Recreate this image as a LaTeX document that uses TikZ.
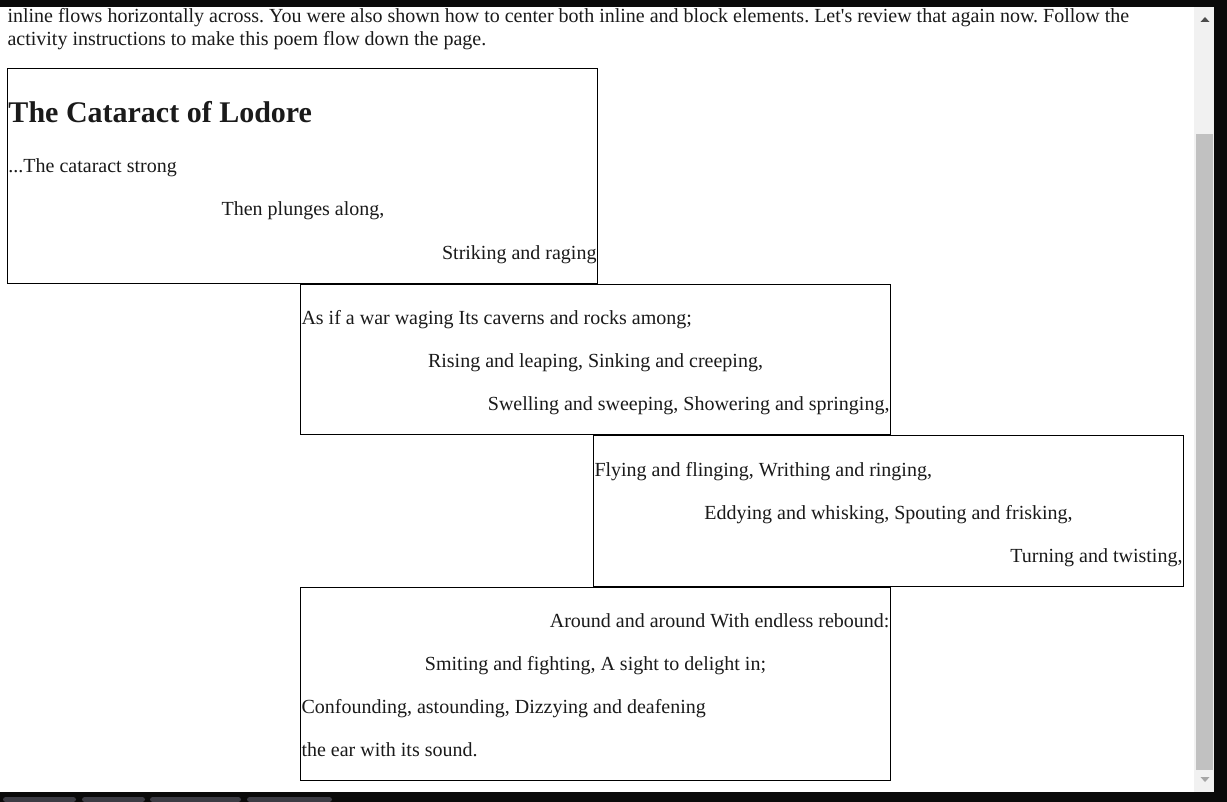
\documentclass[tikz,border=0pt]{standalone}
\usepackage{fontspec}
\setmainfont{Liberation Serif}
\usepackage{tikz}
\frenchspacing

\definecolor{barblack}{HTML}{0A0A0A}
\definecolor{tabgray}{HTML}{3C3C44}
\definecolor{trackgray}{HTML}{F1F1F1}
\definecolor{thumbgray}{HTML}{C1C1C1}
\definecolor{inkblack}{HTML}{1A1A1A}

\begin{document}
\begin{tikzpicture}[x=0.75pt, y=-0.75pt, line width=0.75pt,
    every node/.style={inner sep=0pt, text=inkblack},
    verse/.style={font=\fontsize{15}{18}\selectfont},
    title/.style={font=\bfseries\fontsize{22.5}{27}\selectfont}]
    \useasboundingbox (0, 0) rectangle (1227, 802);
    \fill[white] (0, 0) rectangle (1227, 802);

    % draw intro text
    \node[verse, anchor=base west] (introa) at (7, 22.5) {inline flows horizontally across. You were also shown how to center both inline and block elements. Let\textquotesingle s review that again now. Follow the};
    \node[verse, anchor=base west] (introb) at (7, 46) {activity instructions to make this poem flow down the page.};

    % draw poem boxes
    \draw[color=black] (7, 69) rectangle (597, 283);
    \draw[color=black] (300, 284) rectangle (890, 434);
    \draw[color=black] (593, 435) rectangle (1183, 586);
    \draw[color=black] (300, 587) rectangle (890, 780);

    % first box
    \node[title, anchor=base west] (heading) at (8, 123) {The Cataract of Lodore};
    \node[verse, anchor=base west] (linea) at (8, 173) {...The cataract strong};
    \node[verse, anchor=base] (lineb) at (303, 216) {Then plunges along,};
    \node[verse, anchor=base east] (linec) at (597, 259) {Striking and raging};

    % second box
    \node[verse, anchor=base west] (lined) at (301, 324) {As if a war waging Its caverns and rocks among;};
    \node[verse, anchor=base] (linee) at (595.5, 367) {Rising and leaping, Sinking and creeping,};
    \node[verse, anchor=base east] (linef) at (890, 410) {Swelling and sweeping, Showering and springing,};

    % third box
    \node[verse, anchor=base west] (lineg) at (594, 476) {Flying and flinging, Writhing and ringing,};
    \node[verse, anchor=base] (lineh) at (888.5, 519) {Eddying and whisking, Spouting and frisking,};
    \node[verse, anchor=base east] (linei) at (1183, 562) {Turning and twisting,};

    % fourth box
    \node[verse, anchor=base east] (linej) at (890, 627) {Around and around With endless rebound:};
    \node[verse, anchor=base] (linek) at (595.5, 670) {Smiting and fighting, A sight to delight in;};
    \node[verse, anchor=base west] (linel) at (301, 713) {Confounding, astounding, Dizzying and deafening};
    \node[verse, anchor=base west] (linem) at (301, 756) {the ear with its sound.};

    % draw scrollbar
    \fill[color=trackgray] (1194, 7) rectangle (1214, 792);
    \fill[color=thumbgray] (1196, 134) rectangle (1213, 770);
    \fill[color=black!70] (1200.5, 22) -- (1209.5, 22) -- (1205, 17) -- cycle;
    \fill[color=black!35] (1200.5, 777) -- (1209.5, 777) -- (1205, 782) -- cycle;

    % draw window frame
    \fill[color=barblack] (0, 0) rectangle (1227, 7);
    \fill[color=barblack] (1214, 0) rectangle (1227, 802);
    \fill[color=barblack] (0, 792) rectangle (1227, 802);
    \foreach \a/\b in {3/76, 82/145, 150/241, 247/332}
      \fill[color=tabgray, rounded corners=2pt] (\a, 802) -- (\a, 797) -- (\b, 797) -- (\b, 802) -- cycle;
\end{tikzpicture}
\end{document}
